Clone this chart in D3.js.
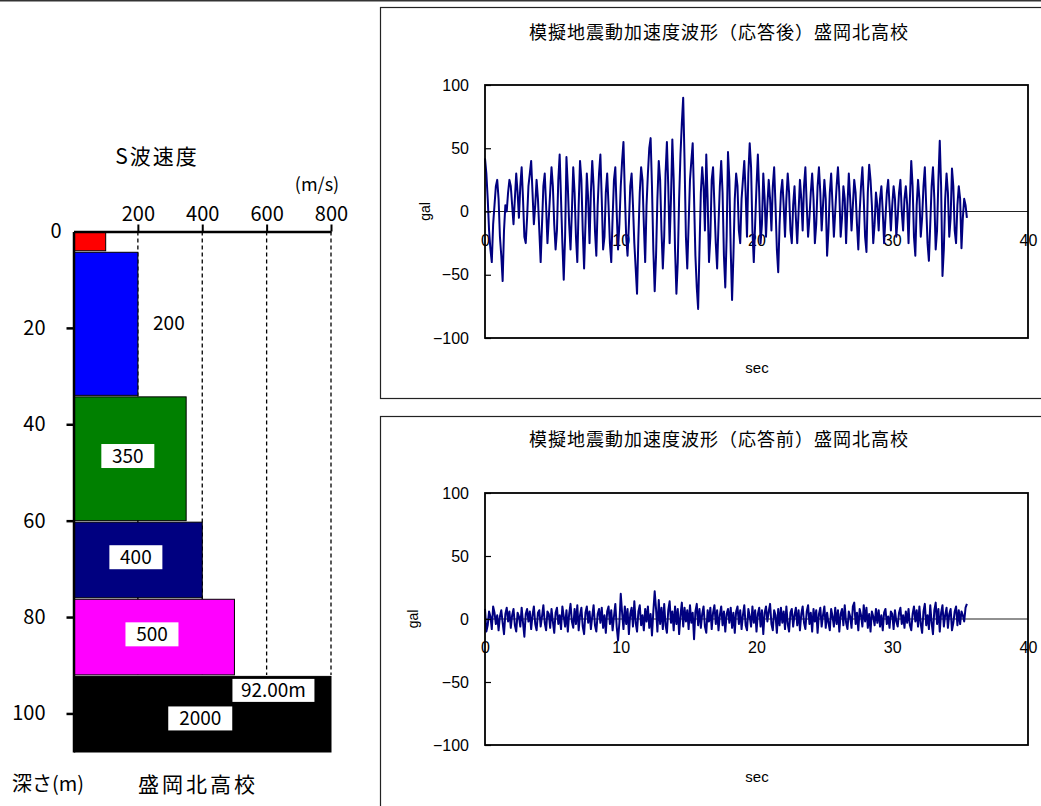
<!DOCTYPE html>
<html>
<head>
<meta charset="utf-8">
<script src="https://cdn.jsdelivr.net/npm/d3@7"></script>
<style>
  body { margin: 0; background: #fff; }
  svg { display: block; }
</style>
</head>
<body>
<div id="chart"></div>
<script>
// ---- data ----
const layerTop = [0, 4, 34, 60, 76, 92];
const layerBottom = [4, 34, 60, 76, 92, 108];
const layerVel = [100, 200, 350, 400, 500, 2000];
const layerLabel = ["", "200", "350", "400", "500", "2000"];
const velTicks = [200, 400, 600, 800];
const depthTicks = [0, 20, 40, 60, 80, 100];
const galTicks = [-100, -50, 0, 50, 100];
const secTicks = [0, 10, 20, 30, 40];
const siteName = "盛岡北高校";
const dt = 0.1;

// 応答後 (gal), one value every 0.1 s
const waveAfter = [
  42, 30, 10, -15, -30, -40, -10, 5, 20, 25,
  10, -20, -35, -55, -15, 5, 0, 15, 25, 20,
  5, -10, 10, 30, 15, -5, 20, 35, 10, -20,
  -25, -5, 20, 30, 40, 15, -10, 5, 25, 10,
  -15, -40, -10, 20, 30, 5, -25, -5, 15, 35,
  20, -10, -30, -15, 25, 45, 10, -25, -54, -20,
  43, 20, -10, -30, 0, 35, 15, -20, -40, 5,
  40, 25, -15, -45, -10, 30, 10, -25, 15, 40,
  20, -15, -35, 5, 30, 45, 10, -30, -20, 15,
  30, 5, -25, -40, -5, 25, 35, 0, -30, -10,
  20, 40, 55, 15, -20, -35, -10, 20, 30, 5,
  -25, -45, -65, -20, 15, 35, 25, -10, -40, 5,
  30, 50, 58, 20, -30, -63, -35, 10, 40, 25,
  -15, -45, -20, 30, 55, 20, -25, 10, 57, 25,
  -30, -65, -40, 10, 45, 70, 90, 40, -20, -45,
  -10, 25, 40, 54, 10, -35, -60, -77, -30, 15,
  35, 20, -15, 45, 10, -40, -20, 25, 35, 5,
  -25, -45, -10, 20, 40, 15, -35, -60, -20, 47,
  25, -30, -70, -35, 10, 30, 20, -15, -25, 10,
  25, 40, 15, -20, 30, 54, 35, -15, -40, -10,
  20, 45, 15, -25, -10, 30, 10, -20, 5, 25,
  10, -15, 20, 35, 5, -30, -48, -10, 15, 25,
  5, -20, 10, 30, 15, -15, -25, 5, 20, -5,
  -25, 0, 25, 10, -15, 20, 35, 5, -20, -5,
  15, 30, 10, -25, -10, 20, 35, 15, -15, 5,
  25, 10, -35, -15, 15, 30, 5, -20, 0, 20,
  35, 15, -20, -5, 20, 10, -25, 5, 30, 10,
  -15, 5, 25, 15, -10, -30, 0, 20, 35, 10,
  -20, -32, 15, 37, 25, 5, -25, -10, 15, 5,
  -15, 10, 20, 0, -25, -5, 15, 25, 5, -15,
  5, 20, 10, -20, -5, 15, 25, 0, -15, 10,
  20, 5, -25, 10, 40, 20, -20, -35, 5, 25,
  10, -20, -5, 20, 35, 5, -25, -39, -10, 20,
  35, 10, -30, -15, 25, 56, 20, -51, -30, 10,
  30, 15, -20, -5, 34, 20, -15, -25, 5, 20,
  10, -29, -5, 10, 5, -5
];

// 応答前 (gal), one value every 0.1 s
const waveBefore = [
  8, -10, -5, 6, 2, -8, 10, 5, -4, 3,
  -9, 2, 7, -3, -12, 4, 9, -2, 6, -7,
  3, 8, -5, -10, 5, 2, -6, 9, -3, -14,
  4, 8, -2, 6, -8, 3, 10, -4, -9, 5,
  7, -6, 2, 11, -3, -9, 6, 4, -7, 8,
  -2, -11, 5, 9, -4, 3, -8, 10, 2, -6,
  7, -10, 4, 12, -2, -7, 8, -4, 11, -9,
  3, 9, -6, -12, 5, 10, -3, 6, -8, 2,
  11, -5, -10, 4, 8, -3, 9, -7, 3, -11,
  6, 10, -4, 7, -9, 2, 12, -6, -17, -3,
  20, 5, -8, 10, -4, 8, -12, 4, 9, -6,
  14, -3, -10, 6, 11, -5, 3, -9, 8, -2,
  10, -7, 4, -13, 6, 22, 8, -10, 15, -4,
  9, -8, 12, -5, -11, 7, 14, -3, 6, -9,
  10, -4, 8, -12, 3, 13, -6, 9, -2, 7,
  -8, 11, -3, 5, -16, 6, 12, -5, 8, -7,
  4, 10, -6, -11, 7, -2, 9, -8, 5, 11,
  -4, 7, -9, 3, 10, -5, 6, -10, 4, 8,
  -3, 9, -7, 5, -11, 6, 10, -4, 7, -8,
  3, 11, -5, -9, 8, 2, -6, 10, -3, 7,
  -10, 4, 9, -6, 7, -12, 5, 10, -2, 6,
  12, -4, -9, 7, 3, -11, 8, -5, 9, -3,
  6, -8, 10, -4, -10, 5, 8, -6, 3, 9,
  -5, 7, -9, 4, 10, -3, -8, 6, 11, -4,
  5, -10, 8, -2, 7, -11, 4, 9, -6, 3,
  10, -7, 5, -3, -9, 8, 2, -6, 9, -4,
  7, -10, 4, 8, -5, 11, -3, -8, 6, 2,
  -7, 10, 13, -4, 5, -9, 8, 3, -6, 11,
  -2, 9, -7, 4, -10, 6, 2, -5, 8, -3,
  7, -6, 3, -9, 5, 8, -4, 2, -7, 6,
  4, -8, 7, -2, -6, 5, 9, -4, 3, -7,
  6, -3, 8, -5, -9, 4, 10, -2, 7, -6,
  10, -4, -11, 6, 12, -5, 3, -8, 11, -3,
  -12, 7, 13, -4, 8, -10, 5, 11, -6, 3,
  9, -7, 4, 8, -9, -3, 6, 10, -5, 7,
  -4, 6, 3, -2, 9, 12
];

const layerColors = ["#ff0000", "#0000ff", "#008000", "#000080", "#ff00ff", "#000000"];
const jp = '"Noto Sans CJK JP", sans-serif';
const num = '"Liberation Sans", Arial, sans-serif';

const svg = d3.select("#chart").append("svg")
  .attr("width", 1041)
  .attr("height", 806);

svg.append("line")
  .attr("x1", 0).attr("x2", 1041)
  .attr("y1", 0.75).attr("y2", 0.75)
  .attr("stroke", "#333").attr("stroke-width", 1.5);

// ---- left: S波速度 profile ----
var xv = d3.scaleLinear().domain([0, 800]).range([73.5, 331]);
var yd = d3.scaleLinear().domain([0, d3.max(layerBottom)]).range([231.5, 752]);

const left = svg.append("g").attr("font-family", jp);

left.selectAll(".grid")
  .data(velTicks)
  .enter()
  .append("line")
  .attr("class", "grid")
  .attr("x1", (d) => xv(d)).attr("x2", (d) => xv(d))
  .attr("y1", yd(0)).attr("y2", yd(layerTop[5]))
  .attr("stroke", "#000")
  .attr("stroke-width", 1.3)
  .attr("stroke-dasharray", "4,3");

left.selectAll(".layer")
  .data(layerVel)
  .enter()
  .append("rect")
  .attr("class", "layer")
  .attr("x", xv(0) + 1)
  .attr("y", (d, i) => yd(layerTop[i]) + (i ? 1.5 : 0))
  .attr("width", (d) => xv(Math.min(d, 800)) - xv(0) - 1)
  .attr("height", (d, i) => yd(layerBottom[i]) - yd(layerTop[i]) - (i ? 1.5 : 0))
  .attr("fill", (d, i) => layerColors[i])
  .attr("stroke", "#000")
  .attr("stroke-width", 1);

// top axis (m/s)
const ax = left.append("g")
  .attr("transform", `translate(0,${yd(0)})`)
  .call(d3.axisTop(xv).tickValues(velTicks).tickSize(7).tickPadding(4).tickSizeOuter(0));
ax.attr("font-family", jp).attr("font-size", 20);
ax.select(".domain").attr("stroke-width", 2.5);
ax.selectAll(".tick line").attr("stroke-width", 2);

// left axis depth
const ay = left.append("g")
  .attr("transform", `translate(${xv(0)},0)`)
  .call(d3.axisLeft(yd).tickValues(depthTicks).tickSize(7).tickPadding(21).tickSizeOuter(0));
ay.attr("font-family", jp).attr("font-size", 20);
ay.select(".domain").attr("stroke-width", 2.5);
ay.selectAll(".tick line").attr("stroke-width", 2.5)
  .attr("opacity", (d) => (d === 0 ? 0 : 1));
// the "0" sits closer to the axis in the original
ay.selectAll(".tick text").filter((d) => d === 0).attr("x", -12);

// value labels
layerLabel.forEach((lab, i) => {
  if (!lab) return;
  const yMid = (yd(layerTop[i]) + yd(layerBottom[i])) / 2;
  const w = xv(Math.min(layerVel[i], 800)) - xv(0);
  if (w < 70) {
    left.append("text")
      .attr("x", xv(layerVel[i]) + 31)
      .attr("y", yMid)
      .attr("dy", "0.35em")
      .attr("text-anchor", "middle")
      .attr("font-size", 19)
      .text(lab);
    return;
  }
  const cx = xv(0) + w / 2 - 2;
  const cy = i === 5 ? yMid + 5 : yMid - 2;
  const bw = lab.length * 11 + 20;
  left.append("rect")
    .attr("x", cx - bw / 2).attr("y", cy - 12)
    .attr("width", bw).attr("height", 24)
    .attr("fill", "#fff");
  left.append("text")
    .attr("x", cx).attr("y", cy)
    .attr("dy", "0.36em")
    .attr("text-anchor", "middle")
    .attr("font-size", 19)
    .text(lab);
});

// 92.00m depth annotation
const bottomLabel = layerTop[5].toFixed(2) + "m";
const bx = xv(layerVel[4]) - 2;
left.append("rect")
  .attr("x", bx).attr("y", yd(layerTop[5]) + 4)
  .attr("width", 82).attr("height", 23)
  .attr("fill", "#fff");
left.append("text")
  .attr("x", bx + 41).attr("y", yd(layerTop[5]) + 15.5)
  .attr("dy", "0.36em")
  .attr("text-anchor", "middle")
  .attr("font-size", 19)
  .text(bottomLabel);

left.append("text")
  .attr("x", 157).attr("y", 156)
  .attr("dy", "0.36em")
  .attr("text-anchor", "middle")
  .attr("font-size", 21)
  .attr("letter-spacing", 2)
  .text("S波速度");
left.append("text")
  .attr("x", 317).attr("y", 185)
  .attr("dy", "0.36em")
  .attr("text-anchor", "middle")
  .attr("font-size", 18)
  .text("(m/s)");
left.append("text")
  .attr("x", 12).attr("y", 784)
  .attr("dy", "0.36em")
  .attr("font-size", 20)
  .text("深さ(m)");
left.append("text")
  .attr("x", 138).attr("y", 784)
  .attr("dy", "0.36em")
  .attr("font-size", 21)
  .attr("letter-spacing", 3)
  .text(siteName);

// ---- right: 加速度波形 ----
function drawWave(cfg) {
  const g = svg.append("g");

  g.append("rect")
    .attr("x", 380.5).attr("y", cfg.panelTop)
    .attr("width", 700).attr("height", cfg.panelH)
    .attr("fill", "#fff")
    .attr("stroke", "#222").attr("stroke-width", 1.2);

  var x = d3.scaleLinear().domain([0, 40]).range([485, 1028]);
  var y = d3.scaleLinear().domain([-100, 100]).range([cfg.plotBottom, cfg.plotTop]);

  g.append("text")
    .attr("x", 719).attr("y", cfg.titleY)
    .attr("dy", "0.36em")
    .attr("text-anchor", "middle")
    .attr("font-family", jp)
    .attr("font-size", 18)
    .attr("letter-spacing", 1)
    .text(cfg.title);

  // x labels sit under the zero line
  const gx = g.append("g")
    .attr("transform", `translate(0,${y(0)})`)
    .call(d3.axisBottom(x).tickValues(secTicks).tickSize(0).tickPadding(23));
  gx.attr("font-family", num).attr("font-size", 16);
  gx.select(".domain").remove();

  g.append("line")
    .attr("x1", x(0)).attr("x2", x(40))
    .attr("y1", y(0)).attr("y2", y(0))
    .attr("stroke", "#222").attr("stroke-width", 1.2);

  const line = d3.line()
    .x((d, i) => x(i * dt))
    .y((d) => y(d));

  g.append("path")
    .datum(cfg.data)
    .attr("d", line)
    .attr("fill", "none")
    .attr("stroke", "#000080")
    .attr("stroke-width", 2)
    .attr("stroke-linejoin", "round");

  const gy = g.append("g")
    .attr("transform", `translate(${x(0)},0)`)
    .call(d3.axisLeft(y).tickValues(galTicks).tickSize(-6).tickPadding(16).tickSizeOuter(0));
  gy.attr("font-family", num).attr("font-size", 16);
  gy.select(".domain").remove();
  gy.selectAll(".tick line").attr("stroke-width", 1.2);

  g.append("rect")
    .attr("x", x(0)).attr("y", y(100))
    .attr("width", x(40) - x(0)).attr("height", y(-100) - y(100))
    .attr("fill", "none")
    .attr("stroke", "#000").attr("stroke-width", 1.8);

  g.append("text")
    .attr("transform", `translate(${cfg.galX},${y(0)}) rotate(-90)`)
    .attr("dy", "0.36em")
    .attr("text-anchor", "middle")
    .attr("font-family", num)
    .attr("font-size", 14)
    .text("gal");

  g.append("text")
    .attr("x", 757).attr("y", cfg.secY)
    .attr("dy", "0.36em")
    .attr("text-anchor", "middle")
    .attr("font-family", num)
    .attr("font-size", 15)
    .text("sec");
}

drawWave({
  title: "模擬地震動加速度波形（応答後）" + siteName,
  data: waveAfter,
  panelTop: 7.5, panelH: 391,
  plotTop: 85, plotBottom: 338,
  titleY: 33, secY: 368, galX: 425
});

drawWave({
  title: "模擬地震動加速度波形（応答前）" + siteName,
  data: waveBefore,
  panelTop: 416.5, panelH: 420,
  plotTop: 493, plotBottom: 745,
  titleY: 440, secY: 777, galX: 413
});
</script>
</body>
</html>
